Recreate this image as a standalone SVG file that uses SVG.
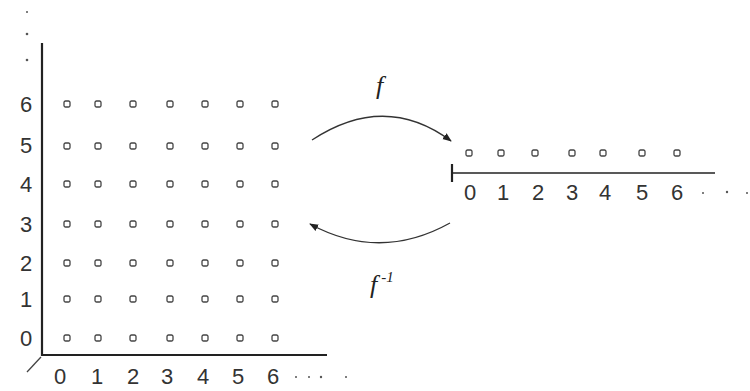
<svg xmlns="http://www.w3.org/2000/svg" width="750" height="391" viewBox="0 0 750 391">
<style>
.lbl{font-family:"Liberation Sans",Arial,sans-serif;font-size:22px;fill:#333;text-anchor:middle}
.fl{font-family:"Liberation Serif","Times New Roman",serif;font-style:italic;font-size:26px;fill:#222}
.pt{fill:none;stroke:#444;stroke-width:1.3}
.ax{stroke:#222;stroke-width:2.2;fill:none}
.arc{stroke:#333;stroke-width:1.3;fill:none}
.dot{fill:#555}
</style>
<defs>
<marker id="ah" viewBox="0 0 10 10" refX="9" refY="5" markerWidth="7" markerHeight="7" orient="auto">
<path d="M0,1 L10,5 L0,9 Z" fill="#222"/>
</marker>
<g id="p"><rect x="-3" y="-3" width="6" height="6" rx="1.5" class="pt"/></g>
</defs>
<rect width="750" height="391" fill="#fff"/>
<g id="plane">
<line class="ax" x1="42" y1="43" x2="42" y2="356"/>
<line class="ax" x1="41" y1="355" x2="327" y2="355"/>
<line x1="41" y1="357" x2="27" y2="372" stroke="#444" stroke-width="1.3"/>
<circle class="dot" cx="27" cy="12" r="1"/>
<circle class="dot" cx="27" cy="34" r="1.3"/>
<circle class="dot" cx="27" cy="60" r="1.3"/>
<g class="lbl">
<text x="26" y="112">6</text>
<text x="26" y="153">5</text>
<text x="26" y="192">4</text>
<text x="26" y="232">3</text>
<text x="26" y="271">2</text>
<text x="26" y="307">1</text>
<text x="26" y="346">0</text>
<text x="60" y="384">0</text>
<text x="97" y="384">1</text>
<text x="133" y="384">2</text>
<text x="167" y="384">3</text>
<text x="203" y="384">4</text>
<text x="238" y="384">5</text>
<text x="273" y="384">6</text>
</g>
<circle class="dot" cx="296" cy="377" r="1"/>
<circle class="dot" cx="309" cy="377" r="1"/>
<circle class="dot" cx="321" cy="377" r="1.2"/>
<circle class="dot" cx="346" cy="377" r="1"/>
<g id="grid">
<use href="#p" x="67" y="104"/><use href="#p" x="98" y="104"/><use href="#p" x="133" y="104"/><use href="#p" x="170" y="104"/><use href="#p" x="205" y="104"/><use href="#p" x="240" y="104"/><use href="#p" x="275" y="104"/>
<use href="#p" x="67" y="146"/><use href="#p" x="98" y="146"/><use href="#p" x="133" y="146"/><use href="#p" x="170" y="146"/><use href="#p" x="205" y="146"/><use href="#p" x="240" y="146"/><use href="#p" x="275" y="146"/>
<use href="#p" x="67" y="184"/><use href="#p" x="98" y="184"/><use href="#p" x="133" y="184"/><use href="#p" x="170" y="184"/><use href="#p" x="205" y="184"/><use href="#p" x="240" y="184"/><use href="#p" x="275" y="184"/>
<use href="#p" x="67" y="224"/><use href="#p" x="98" y="224"/><use href="#p" x="133" y="224"/><use href="#p" x="170" y="224"/><use href="#p" x="205" y="224"/><use href="#p" x="240" y="224"/><use href="#p" x="275" y="224"/>
<use href="#p" x="67" y="263"/><use href="#p" x="98" y="263"/><use href="#p" x="133" y="263"/><use href="#p" x="170" y="263"/><use href="#p" x="205" y="263"/><use href="#p" x="240" y="263"/><use href="#p" x="275" y="263"/>
<use href="#p" x="67" y="299"/><use href="#p" x="98" y="299"/><use href="#p" x="133" y="299"/><use href="#p" x="170" y="299"/><use href="#p" x="205" y="299"/><use href="#p" x="240" y="299"/><use href="#p" x="275" y="299"/>
<use href="#p" x="67" y="338"/><use href="#p" x="98" y="338"/><use href="#p" x="133" y="338"/><use href="#p" x="170" y="338"/><use href="#p" x="205" y="338"/><use href="#p" x="240" y="338"/><use href="#p" x="275" y="338"/>
</g>
</g>
<g id="line">
<line class="ax" x1="452" y1="164" x2="452" y2="182"/>
<line x1="452" y1="173" x2="715" y2="173" stroke="#222" stroke-width="1.6"/>
<use href="#p" x="469" y="153"/><use href="#p" x="501" y="153"/><use href="#p" x="535" y="153"/><use href="#p" x="572" y="153"/><use href="#p" x="603" y="153"/><use href="#p" x="642" y="153"/><use href="#p" x="677" y="153"/>
<g class="lbl">
<text x="470" y="200">0</text>
<text x="503" y="200">1</text>
<text x="538" y="200">2</text>
<text x="572" y="200">3</text>
<text x="605" y="200">4</text>
<text x="642" y="200">5</text>
<text x="677" y="200">6</text>
</g>
<circle class="dot" cx="703" cy="193" r="1"/>
<circle class="dot" cx="727" cy="192" r="1.2"/>
<circle class="dot" cx="747" cy="193" r="1"/>
</g>
<g id="connectors">
<path class="arc" d="M312,140 Q385,92 451,141" marker-end="url(#ah)"/>
<path class="arc" d="M450,223 Q380,262 310,224" marker-end="url(#ah)"/>
</g>
<g id="labels">
<text class="fl" x="376" y="94">f</text>
<text class="fl" x="370" y="293">f<tspan font-size="15" dx="4" dy="-11">-1</tspan></text>
</g>
</svg>
